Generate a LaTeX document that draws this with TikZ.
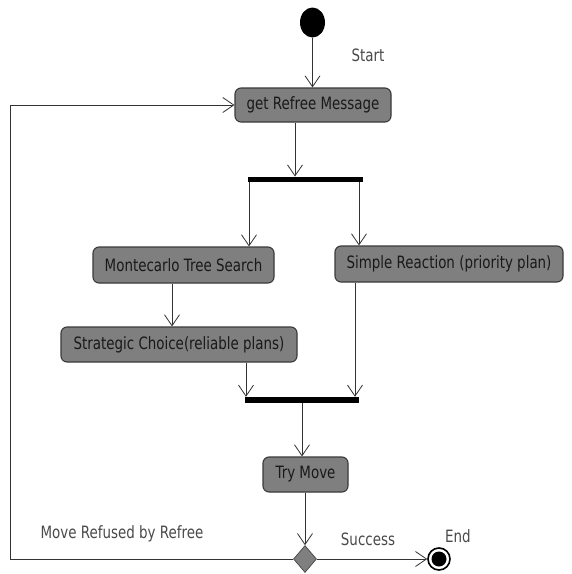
\documentclass[tikz,border=0pt]{standalone}
\usepackage{fontspec}
\setmainfont{DejaVu Sans}[FakeStretch=0.79]
\usetikzlibrary{arrows.meta,shapes.geometric}
\definecolor{boxfill}{HTML}{7F7F7F}
\definecolor{boxline}{HTML}{3A3A3A}
\definecolor{labelgray}{HTML}{4A4A4A}
\begin{document}
\begin{tikzpicture}[x=1pt,y=-1pt,
  font=\fontsize{17}{20}\selectfont,
  act/.style={draw=boxline,line width=1.1pt,fill=boxfill,rounded corners=6pt,
    inner sep=0pt,text=black!90,anchor=center},
  bar/.style={fill=black,draw=none,inner sep=0pt,minimum height=5.5pt},
  arr/.style={line width=0.9pt,draw=black!80,-{Straight Barb[length=11pt,width=15pt,line width=0.8pt]}},
  lbl/.style={text=labelgray,inner sep=0pt}]
\fill[white] (0,0) rectangle (572,574);
\useasboundingbox (0,0) rectangle (572,574);
% nodes
\node[ellipse,fill=black,inner sep=0pt,minimum width=25pt,minimum height=30pt] (start) at (312.5,22.5) {};
\node[act,minimum width=156pt,minimum height=34pt] (get) at (313,105) {get Refree Message};
\node[bar,minimum width=115pt] (fork) at (305.5,179.5) {};
\node[act,minimum width=181pt,minimum height=36pt] (mcts) at (183.5,265) {Montecarlo Tree Search};
\node[act,minimum width=228pt,minimum height=36pt] (simple) at (449,264) {Simple Reaction (priority plan)};
\node[act,minimum width=236pt,minimum height=35pt] (strat) at (179,344.5) {Strategic Choice(reliable plans)};
\node[bar,minimum width=114pt,minimum height=6pt] (join) at (301.5,400) {};
\node[act,minimum width=85pt,minimum height=35pt] (try) at (305.5,474.5) {Try Move};
\node[diamond,fill=boxfill,draw=boxline,line width=0.6pt,inner sep=0pt,minimum width=23pt,minimum height=27pt] (dec) at (305,559) {};
\node[circle,draw=black,line width=1.6pt,fill=white,inner sep=0pt,minimum size=22pt] (end) at (439,559) {};
\node[circle,fill=black,inner sep=0pt,minimum size=15pt] (endin) at (end.center) {};
% helper x positions
\coordinate (xa) at (295,0);
\coordinate (xl) at (249,0);
\coordinate (xr) at (359,0);
\coordinate (xm) at (172,0);
\coordinate (xs) at (246,0);
\coordinate (xp) at (355,0);
\coordinate (xj) at (302,0);
\coordinate (loopx) at (10,0);
% connectors
\draw[arr] (start) -- (get.north -| start);
\draw[arr] (get.south -| xa) -- (fork.north -| xa);
\draw[arr] (fork.south -| xl) -- (mcts.north -| xl);
\draw[arr] (fork.south -| xr) -- (simple.north -| xr);
\draw[arr] (mcts.south -| xm) -- (strat.north -| xm);
\draw[arr] (strat.south -| xs) -- (join.north -| xs);
\draw[arr] (simple.south -| xp) -- (join.north -| xp);
\draw[arr] (join.south -| xj) -- (try.north -| xj);
\draw[arr] (try.south -| dec) -- (dec.north);
\draw[arr] (dec.east) -- (end.west);
\draw[arr] (dec.west) -- (dec.west -| loopx) -- (get.west -| loopx) -- (get.west);
% labels
\node[lbl] (lstart) at (368,55) {Start};
\node[lbl] (lrefused) at (122,534) {Move Refused by Refree};
\node[lbl] (lsuccess) at (368,539) {Success};
\node[lbl] (lend) at (458,536) {End};
\end{tikzpicture}
\end{document}
